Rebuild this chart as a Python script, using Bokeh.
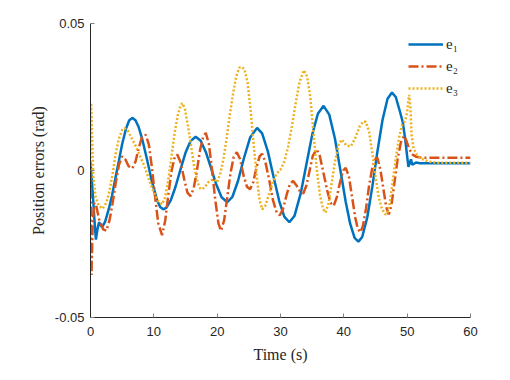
from bokeh.plotting import figure
from bokeh.models import FixedTicker, Legend, LegendItem
from bokeh.embed import file_html
from bokeh.resources import INLINE

# ---- data ----
t1 = [0, 0.3, 0.6, 0.85, 1.1, 1.35, 1.8, 2.3, 2.9, 3.4, 3.9, 4.5, 5.0, 5.6, 6.1, 6.6, 7.1, 7.6, 8.2,
      8.9, 9.7, 10.5, 11.0, 11.5, 12.0, 12.7, 13.4, 14.2, 15.0, 15.8, 16.6, 17.4, 18.2, 19.0, 19.8,
      20.7, 21.6, 22.4, 23.3, 24.2, 25.2, 26.3, 27.1, 28.0, 28.9, 29.8, 30.6, 31.4, 32.2, 33.2, 34.2,
      35.0, 35.9, 36.8, 37.7, 38.6, 39.5, 40.3, 41.0, 41.7, 42.3, 42.9, 43.7, 44.5, 45.3, 46.1, 46.9,
      47.6, 48.2, 48.8, 49.3, 49.7, 50.0, 50.2, 50.4, 50.6, 50.8, 51.0, 51.4, 52.0, 55.0, 60.0]
e1 = [0.0027, -0.006, -0.016, -0.0235, -0.020, -0.0176, -0.0193, -0.0175, -0.013, -0.0085, -0.003,
      0.0035, 0.009, 0.0142, 0.017, 0.0179, 0.0171, 0.0148, 0.0104, 0.0040, -0.0038, -0.0100, -0.0124,
      -0.0132, -0.0126, -0.0100, -0.0057, 0.0003, 0.0060, 0.0100, 0.0115, 0.0101, 0.0063, 0.0011,
      -0.0044, -0.0091, -0.0108, -0.0090, -0.0035, 0.0040, 0.0112, 0.0145, 0.0126, 0.0065, -0.0021,
      -0.0104, -0.0157, -0.0176, -0.0155, -0.0077, 0.0033, 0.0121, 0.0193, 0.022, 0.0190, 0.0108,
      -0.0004, -0.0107, -0.0181, -0.0229, -0.0242, -0.0226, -0.0160, -0.0055, 0.0064, 0.0171, 0.0244,
      0.0265, 0.025, 0.0205, 0.0165, 0.0105, 0.0048, 0.0012, 0.0025, 0.0038, 0.002, 0.0022, 0.0027,
      0.0025, 0.0025, 0.0025]

t2 = [0, 0.15, 0.35, 0.6, 0.9, 1.4, 2.0, 2.5, 3.0, 3.5, 4.0, 4.5, 5.0, 5.5, 6.0, 6.6, 7.1, 7.6, 8.1,
      8.7, 9.2, 9.7, 10.2, 10.7, 11.3, 11.8, 12.3, 12.8, 13.3, 13.7, 14.2, 14.8, 15.3, 15.8, 16.3,
      16.8, 17.3, 17.8, 18.2, 18.7, 19.2, 19.7, 20.2, 20.6, 21.1, 21.6, 22.1, 22.6, 23.1, 23.6, 24.2,
      24.7, 25.2, 25.7, 26.2, 26.7, 27.1, 27.6, 28.2, 28.8, 29.4, 29.9, 30.4, 31.0, 31.5, 32.0, 32.5,
      33.0, 33.6, 34.1, 34.6, 35.1, 35.7, 36.2, 36.8, 37.4, 37.9, 38.4, 38.9, 39.4, 39.9, 40.3, 40.8,
      41.3, 41.8, 42.2, 42.6, 43.0, 43.5, 44.0, 44.5, 45.0, 45.3, 45.8, 46.3, 46.7, 47.1, 47.5, 48.0,
      48.5, 49.0, 49.5, 49.9, 50.3, 50.8, 51.4, 52.2, 53.5, 60.0]
e2 = [0.0, -0.0355, -0.018, -0.011, -0.012, -0.017, -0.0200, -0.0205, -0.017, -0.011, -0.004, 0.002,
      0.0048, 0.0038, 0.0015, 0.0007, 0.003, 0.0075, 0.0112, 0.0122, 0.009, 0.001, -0.009, -0.018,
      -0.022, -0.017, -0.008, 0.000, 0.0045, 0.0054, 0.003, -0.003, -0.0075, -0.0087, -0.006, 0.000,
      0.007, 0.0115, 0.0128, 0.009, 0.000, -0.010, -0.018, -0.0205, -0.017, -0.009, -0.001, 0.0045,
      0.0062, 0.004, -0.002, -0.0055, -0.0064, -0.004, 0.001, 0.0048, 0.0057, 0.003, -0.003, -0.010,
      -0.0143, -0.0152, -0.013, -0.008, -0.0045, -0.0036, -0.005, -0.0068, -0.0078, -0.005, 0.000,
      0.005, 0.0073, 0.005, -0.001, -0.007, -0.011, -0.012, -0.009, -0.004, 0.000, 0.0009, -0.002,
      -0.009, -0.016, -0.0198, -0.021, -0.019, -0.013, -0.005, 0.001, 0.004, 0.0043, 0.000, -0.007,
      -0.0125, -0.0149, -0.012, -0.004, 0.004, 0.0095, 0.0118, 0.010, 0.0075, 0.0055, 0.0047, 0.0044,
      0.0043, 0.0043]

t3 = [0, 0.1, 0.25, 0.45, 0.8, 1.3, 1.9, 2.5, 3.0, 3.5, 4.0, 4.5, 5.0, 5.4, 5.9, 6.5, 7.2, 7.9, 8.6,
      9.3, 10.0, 10.7, 11.3, 11.8, 12.3, 12.8, 13.3, 13.8, 14.2, 14.5, 14.9, 15.4, 15.9, 16.4, 16.9,
      17.3, 17.6, 18.1, 18.6, 19.1, 19.5, 20.0, 20.5, 21.0, 21.5, 22.0, 22.5, 23.0, 23.5, 23.9, 24.3,
      24.8, 25.3, 25.8, 26.3, 26.7, 27.1, 27.6, 28.2, 28.8, 29.4, 30.0, 30.6, 31.2, 31.8, 32.4, 33.0,
      33.7, 34.2, 34.7, 35.2, 35.7, 36.2, 36.7, 37.1, 37.6, 38.1, 38.6, 39.2, 39.7, 40.4, 41.1, 41.8,
      42.5, 43.1, 43.5, 44.0, 44.5, 45.0, 45.5, 46.0, 46.5, 46.8, 47.2, 47.7, 48.2, 48.7, 49.2, 49.7,
      50.0, 50.3, 50.5, 50.7, 51.0, 51.5, 52.2, 53.5, 55.0, 60.0]
e3 = [0.0, 0.0229, 0.012, -0.002, -0.009, -0.012, -0.013, -0.011, -0.007, -0.001, 0.006, 0.011,
      0.0138, 0.0144, 0.0135, 0.011, 0.008, 0.0045, 0.001, -0.0035, -0.0075, -0.0105, -0.0115, -0.009,
      -0.003, 0.005, 0.013, 0.019, 0.022, 0.0229, 0.021, 0.015, 0.008, 0.001, -0.004, -0.006, -0.0064,
      -0.0055, -0.004, -0.0033, -0.003, -0.004, -0.001, 0.004, 0.011, 0.019, 0.026, 0.032, 0.035,
      0.0352, 0.0345, 0.030, 0.020, 0.008, -0.003, -0.010, -0.0132, -0.012, -0.008, -0.004, -0.001,
      0.0003, 0.003, 0.008, 0.015, 0.023, 0.030, 0.0341, 0.032, 0.025, 0.013, 0.001, -0.008, -0.013,
      -0.0143, -0.011, -0.004, 0.003, 0.009, 0.0105, 0.0085, 0.0082, 0.011, 0.015, 0.0167, 0.0165,
      0.013, 0.006, -0.002, -0.009, -0.013, -0.0148, -0.0149, -0.012, -0.004, 0.004, 0.011, 0.0155,
      0.017, 0.020, 0.0257, 0.022, 0.012, 0.0075, 0.0055, 0.004, 0.003, 0.0026, 0.0026]

x_ticks = [0, 10, 20, 30, 40, 50, 60]
y_ticks = [-0.05, 0, 0.05]
y_tick_labels = {-0.05: "-0.05", 0: "0", 0.05: "0.05"}
labels = ["e\u2081", "e\u2082", "e\u2083"]
colors = ["#0072BD", "#D95319", "#EDB120"]

p = figure(width=500, height=370, x_range=(0, 60), y_range=(-0.05, 0.05),
           output_backend="svg", toolbar_location=None,
           min_border_left=90, min_border_right=30, min_border_top=23, min_border_bottom=53)
p.outline_line_color = None
p.grid.visible = False
p.background_fill_color = "white"
p.border_fill_color = "white"

r1 = p.line(t1, e1, line_color=colors[0], line_width=2.5)
r2 = p.line(t2, e2, line_color=colors[1], line_width=2.5, line_dash="10 3 2 3")
r3 = p.line(t3, e3, line_color=colors[2], line_width=2.5, line_dash="2 2")

for ax in (p.xaxis[0], p.yaxis[0]):
    ax.axis_line_color = "#262626"
    ax.major_tick_line_color = "#808080"
    ax.major_tick_in = 4
    ax.major_tick_out = 0
    ax.minor_tick_line_color = None
    ax.major_label_text_font = "Liberation Sans"
    ax.major_label_text_font_size = "13px"
    ax.major_label_text_color = "#262626"
    ax.axis_label_text_font = "Liberation Serif"
    ax.axis_label_text_font_size = "16px"
    ax.axis_label_text_font_style = "normal"
    ax.axis_label_text_color = "#262626"

p.xaxis.ticker = FixedTicker(ticks=x_ticks)
p.yaxis.ticker = FixedTicker(ticks=y_ticks)
p.yaxis.major_label_overrides = y_tick_labels
p.xaxis.axis_label = "Time (s)"
p.yaxis.axis_label = "Position errors (rad)"
p.xaxis.major_label_standoff = 9
p.yaxis.major_label_standoff = 6
p.xaxis.axis_label_standoff = 7
p.yaxis.axis_label_standoff = 5

legend = Legend(items=[LegendItem(label=labels[0], renderers=[r1]),
                       LegendItem(label=labels[1], renderers=[r2]),
                       LegendItem(label=labels[2], renderers=[r3])],
                location=(318, 219), orientation="vertical",
                glyph_width=35, glyph_height=20, spacing=2, padding=0, margin=0,
                label_standoff=3, label_text_font="Liberation Serif",
                label_text_font_size="15px", label_text_color="#262626",
                border_line_color=None, background_fill_alpha=0)
p.add_layout(legend)

open("out.html", "w").write(file_html(p, INLINE))
